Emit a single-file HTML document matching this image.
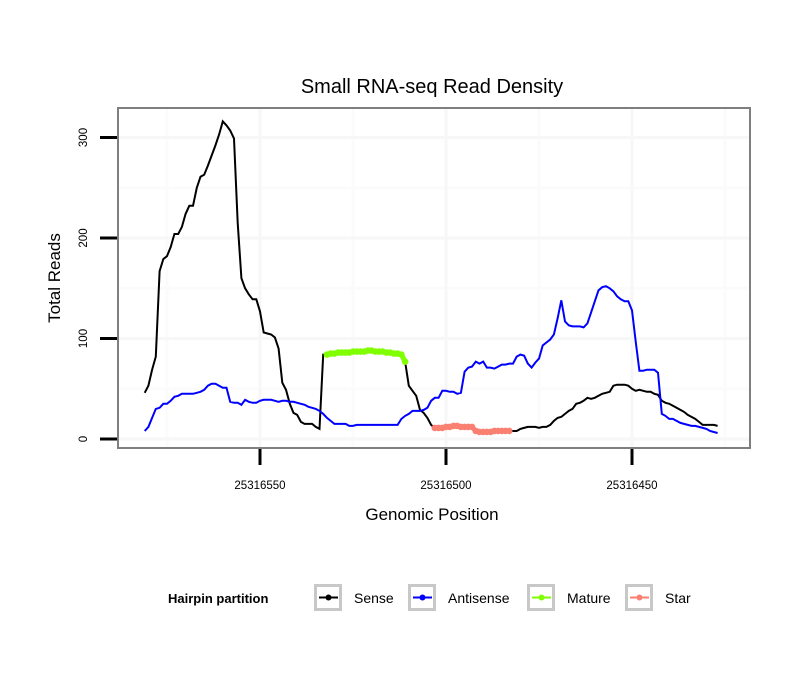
<!DOCTYPE html>
<html><head><meta charset="utf-8"><style>
body{margin:0;background:#fff;}
svg{display:block;font-family:"Liberation Sans",sans-serif;}
</style></head><body>
<svg width="810" height="690" viewBox="0 0 810 690">
<g id="grid"></g>
<rect x="118" y="108" width="632" height="340" fill="none" stroke="#7f7f7f" stroke-width="2"/>
<g id="axes"></g>
<g id="series"></g>
<text x="432" y="93" font-size="20" text-anchor="middle">Small RNA-seq Read Density</text>
<text x="432" y="520" font-size="17" text-anchor="middle">Genomic Position</text>
<text transform="translate(60,278) rotate(-90)" font-size="17" text-anchor="middle">Total Reads</text>
<g>
<text x="168" y="603" font-size="13" font-weight="bold">Hairpin partition</text>
<g id="legend"></g>
</g>
</svg>
<script>
const sensePosStart = 25316581;
const senseValues = [46,53,69,82,167,179,182,191,204,204,211,224,232,232,250,261,263,272,282,292,303,316,312,307,299,215,160,150,144,139,139,
127,106,105,104,101,90,56,49,35,26,24,17,15,15,15,12,10,
84,84,85,85,86,86,86,86,87,87,87,87,88,88,87,87,87,86,86,85,85,84,77,
53,48,43,29,26,21,14,
11,11,11,12,12,13,13,12,12,12,12,8,7,7,7,7,8,8,8,8,8,
8,8,10,11,12,12,12,11,12,12,14,18,21,22,25,28,30,35,36,38,41,40,41,43,45,46,47,53,54,54,54,53,50,48,49,48,47,47,45,44,38,36,35,33,31,29,27,24,22,20,17,14,14,14,14,13];
const antisensePosStart = 25316581;
const antisenseValues = [8,12,21,30,31,35,35,38,42,43,45,45,45,45,46,47,49,53,55,55,53,51,51,37,36,36,34,39,37,36,36,
38,39,39,39,38,37,38,38,37,37,36,35,34,32,31,30,28,
25,21,18,15,15,15,15,13,13,14,14,14,14,14,14,14,14,14,14,14,14,20,23,25,28,28,28,29,31,38,
41,41,48,48,47,47,45,46,67,71,72,77,75,77,71,71,70,72,74,74,75,75,82,84,83,75,71,76,80,93,96,99,104,120,138,117,113,112,112,112,111,115,126,137,148,151,152,150,147,142,139,137,137,128,97,68,68,69,69,69,66,25,23,20,20,18,16,15,14,13,13,12,11,10,8,7,6];
const maturePosStart = 25316532;
const matureValues = [84,85,85,86,86,86,86,87,87,87,87,88,88,87,87,87,86,86,85,85,84,77];
const starPosStart = 25316503;
const starValues = [11,11,11,12,12,13,13,12,12,12,12,8,7,7,7,7,8,8,8,8,8];
const xTicks = [25316550,25316500,25316450];
const yTicks = [0,100,200,300];
const legendLabels = ["Sense","Antisense","Mature","Star"];
const legendColors = ["#000000","#0000ff","#7fff00","#fa8072"];

const NS="http://www.w3.org/2000/svg";
function xs(p){return 260+(25316550-p)*3.72;}
function ys(v){return 439-v*1.005;}
function mk(tag,attrs,parent){const e=document.createElementNS(NS,tag);for(const k in attrs)e.setAttribute(k,attrs[k]);parent.appendChild(e);return e;}
const grid=document.getElementById('grid'),axes=document.getElementById('axes'),series=document.getElementById('series'),legend=document.getElementById('legend');
mk('rect',{x:118,y:108,width:632,height:340,fill:'#fff'},grid);
for(let i=0;i<xTicks.length+1;i++){const p=xTicks[0]+25-50*i;const x=xs(p);if(x>118&&x<750){const l=mk('line',{x1:x,x2:x,y1:108,y2:448,stroke:'#fbfbfb','stroke-width':3},grid);}}
for(let i=0;i<yTicks.length;i++){const y=ys(yTicks[i]+50);if(y>108){const l=mk('line',{x1:118,x2:750,y1:y,y2:y,stroke:'#fbfbfb','stroke-width':3},grid);}}
xTicks.forEach(t=>{const x=xs(t);
const g=mk('line',{x1:x,x2:x,y1:108,y2:448,stroke:'#f7f7f7','stroke-width':3},grid);
const tk=mk('line',{x1:x,x2:x,y1:449,y2:465,stroke:'#000','stroke-width':3},axes);
const tx=mk('text',{x:x,y:489,'font-size':11.5,'text-anchor':'middle'},axes);tx.textContent=t;});
yTicks.forEach(t=>{const y=ys(t);
const g=mk('line',{x1:118,x2:750,y1:y,y2:y,stroke:'#f7f7f7','stroke-width':3},grid);
const tk=mk('line',{x1:100,x2:117,y1:y,y2:y,stroke:'#000','stroke-width':3},axes);
const tx=mk('text',{transform:`translate(87,${y}) rotate(-90)`,'font-size':11.5,'text-anchor':'middle'},axes);tx.textContent=t;});
function pts(start,vals){return vals.map((v,i)=>xs(start-i).toFixed(1)+','+ys(v).toFixed(1)).join(' ');}
const s=mk('polyline',{points:pts(sensePosStart,senseValues),fill:'none',stroke:'#000','stroke-width':2},series);

const a=mk('polyline',{points:pts(antisensePosStart,antisenseValues),fill:'none',stroke:'#0000ff','stroke-width':2},series);

function dotted(start,vals,col,name){const pl=mk('polyline',{points:pts(start,vals),fill:'none',stroke:col,'stroke-width':5,'stroke-linejoin':'round'},series);

vals.forEach((v,i)=>{const c=mk('circle',{cx:xs(start-i),cy:ys(v),r:3.3,fill:col},series);});}
dotted(maturePosStart,matureValues,'#7fff00','mature');
dotted(starPosStart,starValues,'#fa8072','star');
const lx=[314,408,527,625];
legendLabels.forEach((lab,i)=>{const x=lx[i];
const r=mk('rect',{x:x+1.5,y:585.5,width:25,height:24,fill:'#fff',stroke:'#c8c8c8','stroke-width':3},legend);
const l=mk('line',{x1:x+5,x2:x+24,y1:597.5,y2:597.5,stroke:legendColors[i],'stroke-width':2},legend);
const c=mk('circle',{cx:x+14.5,cy:597.5,r:3,fill:legendColors[i]},legend);
const t=mk('text',{x:x+40,y:603,'font-size':14},legend);t.textContent=lab;});
</script>
</body></html>
